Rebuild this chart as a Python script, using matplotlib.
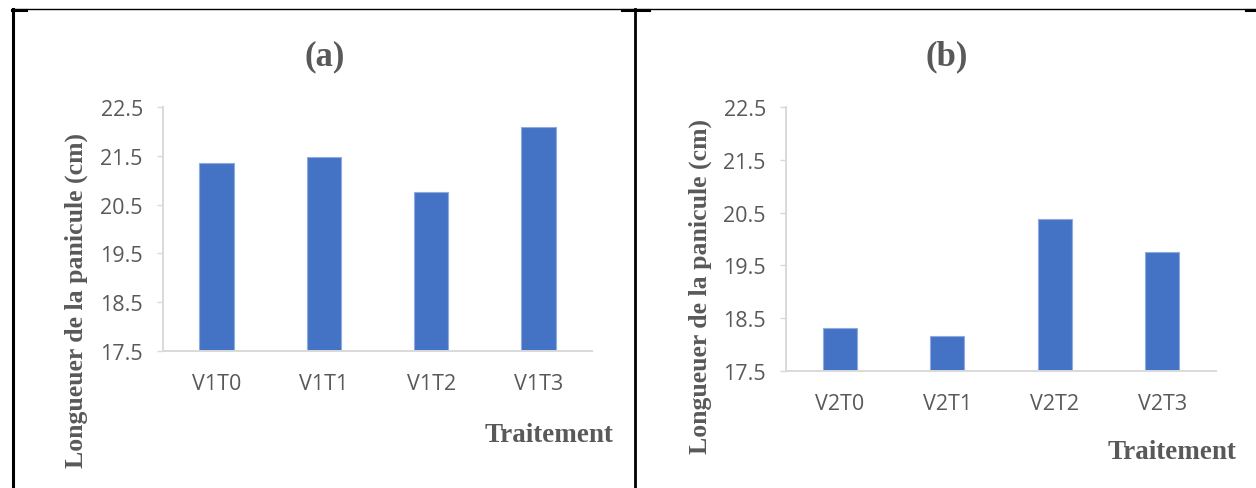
"""Panicle length per treatment, two varieties side by side (Word-table style layout)."""
import matplotlib.pyplot as plt
from matplotlib.lines import Line2D

# --- data ------------------------------------------------------------
labels_a = ["V1T0", "V1T1", "V1T2", "V1T3"]
values_a = [21.36, 21.48, 20.76, 22.09]

labels_b = ["V2T0", "V2T1", "V2T2", "V2T3"]
values_b = [18.31, 18.16, 20.37, 19.76]

yticks = [17.5, 18.5, 19.5, 20.5, 21.5, 22.5]

BAR = "#4472C4"
EDGE = "#8FAADC"
AXIS = "#D9D9D9"
TXT = "#595959"
W, H = 1256, 489

fig = plt.figure(figsize=(W / 100, H / 100), dpi=100)


def px(x, y):
    return x / W, 1 - y / H


def panel(rect, labels, values, title, title_xy, ylab_xy, xlab_xy):
    ax = fig.add_axes(rect)
    ax.bar(range(len(labels)), values, width=0.32, color=BAR,
           edgecolor=EDGE, linewidth=0.8, zorder=2)
    ax.set_xlim(-0.5, len(labels) - 0.5)
    ax.set_ylim(yticks[0], yticks[-1])
    ax.set_yticks(yticks)
    ax.set_yticklabels([f"{t:.1f}" for t in yticks])
    ax.set_xticks(range(len(labels)))
    ax.set_xticklabels(labels)
    for s in ("top", "right"):
        ax.spines[s].set_visible(False)
    for s in ("left", "bottom"):
        ax.spines[s].set_color(AXIS)
        ax.spines[s].set_linewidth(1.4)
    ax.tick_params(axis="y", length=4.5, width=1.0, color=AXIS, pad=10,
                   labelsize=15.5, labelcolor=TXT)
    ax.tick_params(axis="x", length=0, pad=16, labelsize=15.5, labelcolor=TXT)
    for t in ax.get_xticklabels() + ax.get_yticklabels():
        t.set_family("Open Sans")
    fig.text(*px(*title_xy), title, ha="center", va="center",
             family="Liberation Serif", weight="bold", size=25, color=TXT)
    fig.text(*px(*ylab_xy), "Longueuer de la panicule (cm)", rotation=90,
             ha="center", va="center", family="Liberation Serif",
             weight="bold", size=18.5, color=TXT)
    fig.text(*px(*xlab_xy), "Traitement", ha="center", va="center",
             family="Liberation Serif", weight="bold", size=19.5, color=TXT)
    return ax


panel([163 / W, 1 - 352 / H, 429 / W, 244 / H], labels_a, values_a, "(a)",
      (325, 57), (76, 300), (549, 436))
panel([786 / W, 1 - 372 / H, 430 / W, 264 / H], labels_b, values_b, "(b)",
      (947, 57), (700, 286), (1172, 453))

# table cell borders around the two charts
borders = [
    ((12, 1256), (10, 10), 1.0),
    ((13, 13), (10, 489), 2.2),
    ((634.7, 634.7), (10, 489), 2.0),
    ((12, 26), (11, 11), 2.2),
    ((622, 649), (11, 11), 2.2),
    ((1246, 1256), (11, 11), 2.2),
]
for xs, ys, lw in borders:
    fig.add_artist(Line2D([x / W for x in xs], [1 - y / H for y in ys],
                          color="black", lw=lw, transform=fig.transFigure))

fig.savefig("out.png", dpi=100, facecolor="white")
